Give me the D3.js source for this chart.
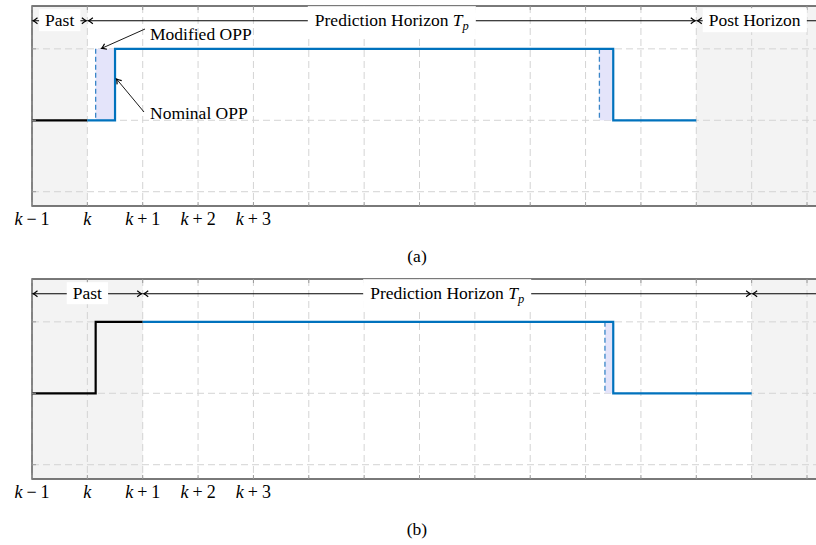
<!DOCTYPE html>
<html>
<head>
<meta charset="utf-8">
<script src="https://cdn.jsdelivr.net/npm/d3@7"></script>
<style>
  body { margin: 0; background: #fff; }
  svg { display: block; }
</style>
</head>
<body>
<div id="chart"></div>
<script>
// tick positions and labels along the time axis
const xTickValues = [0, 1, 2, 3, 4];
const xTickOps = ["−", "", "+", "+", "+"];
const xTickNums = ["1", "", "1", "2", "3"];
const gridX = [0, 1, 2, 3, 4, 5, 6, 7, 8, 9, 10, 11, 12, 13, 14];
const gridY = [-1, 0, 1];

// panel (a)
const pastA = [[0, 0], [1, 0]];
const nominalA = [[1, 0], [1.5, 0], [1.5, 1], [10.5, 1], [10.5, 0], [12, 0]];
const modifiedEdgesA = [1.15, 10.25];
const shadeA = [[1.15, 1.5], [10.25, 10.5]];
const phasesA = [0, 1, 12]; // past start, prediction start, post start

// panel (b)
const pastB = [[0, 0], [1.15, 0], [1.15, 1], [2, 1]];
const nominalB = [[2, 1], [10.5, 1], [10.5, 0], [13, 0]];
const modifiedEdgesB = [10.35];
const shadeB = [[10.35, 10.5]];
const phasesB = [0, 2, 13];

const W = 816, H = 545;
const FONT = "'Liberation Serif', 'Times New Roman', 'DejaVu Serif', serif";
const BLUE = "#0072bd";

const x = d3.scaleLinear().domain([0, 14]).range([32, 807]);
const xEnd = 14.8;

const svg = d3.select("#chart").append("svg")
    .attr("width", W).attr("height", H)
    .attr("font-family", FONT);

const defs = svg.append("defs");
defs.append("marker")
    .attr("id", "tip")
    .attr("viewBox", "-6 -4 8 8")
    .attr("markerWidth", 8).attr("markerHeight", 8)
    .attr("markerUnits", "userSpaceOnUse")
    .attr("refX", 0).attr("refY", 0)
    .attr("orient", "auto-start-reverse")
    .append("path")
    .attr("d", "M-4.5,-3 Q-1.5,-0.6 0,0 Q-1.5,0.6 -4.5,3")
    .attr("fill", "none").attr("stroke", "#000").attr("stroke-width", 1.2);

function addLabel(g, cx, baseline, withTp, text) {
    const t = g.append("text")
        .attr("x", cx).attr("y", baseline)
        .attr("text-anchor", "middle")
        .attr("font-size", 17.5);
    t.append("tspan").text(text);
    if (withTp) {
        t.append("tspan").text(" ");
        t.append("tspan").attr("font-style", "italic").text("T");
        t.append("tspan").attr("font-style", "italic").attr("font-size", 12.5)
            .attr("dy", 4).text("p");
    }
    return t;
}

function labelBox(g, textSel, padX, padTop, padBottom) {
    const b = textSel.node().getBBox();
    g.insert("rect", () => textSel.node())
        .attr("x", b.x - padX).attr("y", b.y - padTop)
        .attr("width", b.width + 2 * padX).attr("height", b.height + padTop + padBottom)
        .attr("fill", "#fff");
}

function drawPanel(top, cfg) {
    const y = d3.scaleLinear().domain([-1.2, 1.6]).range([top + 200, top]);
    const g = svg.append("g");
    const x0 = x(0), x1 = x(xEnd);

    // past and post-horizon background
    g.append("rect")
        .attr("x", x(cfg.phases[0])).attr("y", y(1.6))
        .attr("width", x(cfg.phases[1]) - x(cfg.phases[0])).attr("height", y(-1.2) - y(1.6))
        .attr("fill", "#f3f3f3");
    g.append("rect")
        .attr("x", x(cfg.phases[2])).attr("y", y(1.6))
        .attr("width", x1 - x(cfg.phases[2])).attr("height", y(-1.2) - y(1.6))
        .attr("fill", "#f3f3f3");

    // dashed grid
    g.append("g").selectAll("line").data(gridX).join("line")
        .attr("x1", d => x(d)).attr("x2", d => x(d))
        .attr("y1", y(1.6)).attr("y2", y(-1.2))
        .attr("stroke", "#d4d4d4").attr("stroke-dasharray", "7,4");
    g.append("g").selectAll("line").data(gridY).join("line")
        .attr("x1", x0).attr("x2", x1)
        .attr("y1", d => y(d)).attr("y2", d => y(d))
        .attr("stroke", "#d4d4d4").attr("stroke-dasharray", "7,4");

    // modification areas
    g.append("g").selectAll("rect").data(cfg.shade).join("rect")
        .attr("x", d => x(d[0])).attr("y", y(1))
        .attr("width", d => x(d[1]) - x(d[0])).attr("height", y(0) - y(1))
        .attr("fill", "#e4e4fa");
    g.append("g").selectAll("line").data(cfg.modified).join("line")
        .attr("x1", d => x(d)).attr("x2", d => x(d))
        .attr("y1", y(1)).attr("y2", y(0))
        .attr("stroke", "#3a86c8").attr("stroke-width", 1.3)
        .attr("stroke-dasharray", "5,3");

    const line = d3.line().x(d => x(d[0])).y(d => y(d[1]));
    g.append("path").datum(cfg.past).attr("d", line)
        .attr("fill", "none").attr("stroke", "#000").attr("stroke-width", 2.2);
    g.append("path").datum(cfg.nominal).attr("d", line)
        .attr("fill", "none").attr("stroke", BLUE).attr("stroke-width", 2.2);

    // axis frame and inner ticks
    g.append("path")
        .attr("d", `M${x1},${y(1.6)}H${x0}V${y(-1.2)}H${x1}`)
        .attr("fill", "none").attr("stroke", "#4d4d4d").attr("stroke-width", 1.3);
    g.append("g").selectAll("path").data(gridX).join("path")
        .attr("d", d => `M${x(d)},${y(-1.2)}v-4M${x(d)},${y(1.6)}v4`)
        .attr("stroke", "#9a9a9a");
    g.append("g").selectAll("path").data(gridY).join("path")
        .attr("d", d => `M${x0},${y(d)}h4`)
        .attr("stroke", "#9a9a9a");

    // tick labels
    const tl = g.append("g").selectAll("text").data(xTickValues).join("text")
        .attr("x", d => x(d)).attr("y", y(-1.2) + 19)
        .attr("text-anchor", "middle").attr("font-size", 18);
    tl.append("tspan").attr("font-style", "italic").text("k");
    tl.append("tspan").attr("dx", 4).text((d, i) => xTickOps[i]);
    tl.append("tspan").attr("dx", 4).text((d, i) => xTickNums[i]);

    // horizon arrows
    const ay = top + 14.7;
    const segs = [[cfg.phases[0], cfg.phases[1]], [cfg.phases[1], cfg.phases[2]]];
    g.append("g").selectAll("line").data(segs).join("line")
        .attr("x1", d => x(d[0]) + 1).attr("x2", d => x(d[1]) - 1)
        .attr("y1", ay).attr("y2", ay)
        .attr("stroke", "#000").attr("stroke-width", 1.1)
        .attr("marker-start", "url(#tip)").attr("marker-end", "url(#tip)");
    g.append("line")
        .attr("x1", x(cfg.phases[2]) + 1).attr("x2", x1)
        .attr("y1", ay).attr("y2", ay)
        .attr("stroke", "#000").attr("stroke-width", 1.1)
        .attr("marker-start", "url(#tip)");

    const lp = addLabel(g, (x(cfg.phases[0]) + x(cfg.phases[1])) / 2, ay + 5.5, false, "Past");
    labelBox(g, lp, 6, 1, 1);
    const lh = addLabel(g, (x(cfg.phases[1]) + x(cfg.phases[2])) / 2, ay + 5.5, true, "Prediction Horizon");
    labelBox(g, lh, 7, 4, 4);
    if (cfg.postLabel) {
        const lpost = addLabel(g, (x(cfg.phases[2]) + 811) / 2 + 1, ay + 5.5, false, "Post Horizon");
        labelBox(g, lpost, 6, 2, 2);
    }

    g.append("text")
        .attr("x", 417).attr("y", top + 256)
        .attr("text-anchor", "middle").attr("font-size", 17.5)
        .text(cfg.caption);
    return { g, y };
}

const pa = drawPanel(6, {
    phases: phasesA, past: pastA, nominal: nominalA,
    modified: modifiedEdgesA, shade: shadeA, postLabel: true, caption: "(a)"
});
drawPanel(279, {
    phases: phasesB, past: pastB, nominal: nominalB,
    modified: modifiedEdgesB, shade: shadeB, postLabel: false, caption: "(b)"
});

// annotations in panel (a)
const ann = pa.g.append("g");
ann.append("line")
    .attr("x1", 145).attr("y1", 29).attr("x2", x(1.15) + 6).attr("y2", pa.y(1) - 0.5)
    .attr("stroke", "#000").attr("stroke-width", 0.9).attr("marker-end", "url(#tip)");
ann.append("text").attr("x", 150).attr("y", 40).attr("font-size", 17.5).text("Modified OPP");
ann.append("line")
    .attr("x1", 144).attr("y1", 112).attr("x2", x(1.5) + 1.5).attr("y2", 79)
    .attr("stroke", "#000").attr("stroke-width", 0.9).attr("marker-end", "url(#tip)");
ann.append("text").attr("x", 150).attr("y", 119).attr("font-size", 17.5).text("Nominal OPP");
</script>
</body>
</html>
